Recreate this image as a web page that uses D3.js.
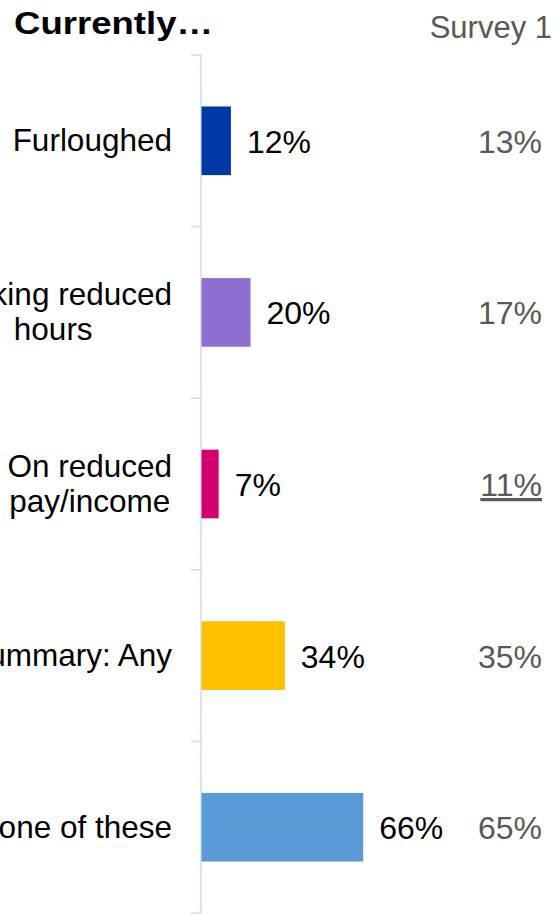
<!DOCTYPE html>
<html>
<head>
<meta charset="utf-8">
<script src="https://cdn.jsdelivr.net/npm/d3@7"></script>
<style>
  body { margin: 0; background: #fff; }
  text { font-family: "Liberation Sans", Arial, sans-serif; }
</style>
</head>
<body>
<div id="viz"></div>
<script>
// chart data
let categories = ["Furloughed", "Working reduced|hours", "On reduced|pay/income", "Summary: Any", "None of these"];
let current_values = [12, 20, 7, 34, 66];
let survey1_values = [13, 17, 11, 35, 65];
let survey1_underlined = [false, false, true, false, false];
let bar_colours = ["#0038A8", "#8E6FD1", "#D3006F", "#FFC000", "#5B9BD5"];

let title_text = "Currently\u2026";
let survey_header = "Survey 1";

let width = 559, height = 915;
let axis_x = 201;
let label_right = 172;
let survey_right = 542;

let svg = d3.select("#viz")
    .append("svg")
    .attr("width", width)
    .attr("height", height);

let y_scale = d3.scaleBand()
    .domain(categories)
    .range([55, 913])
    .paddingInner(0.6)
    .paddingOuter(0.3);

let x_scale = d3.scaleLinear()
    .domain([0, 100])
    .range([axis_x + 0.5, axis_x + 0.5 + 245]);

let step = y_scale.step();

// title + header
svg.append("text")
    .attr("x", 14)
    .attr("y", 34)
    .attr("font-size", 32)
    .attr("font-weight", "bold")
    .attr("fill", "#000")
    .attr("textLength", 199)
    .attr("lengthAdjust", "spacingAndGlyphs")
    .text(title_text);

svg.append("text")
    .attr("x", 552)
    .attr("y", 38)
    .attr("text-anchor", "end")
    .attr("font-size", 31)
    .attr("fill", "#595959")
    .text(survey_header);

// axis line with ticks at band boundaries
svg.append("line")
    .attr("x1", axis_x).attr("x2", axis_x)
    .attr("y1", y_scale.range()[0]).attr("y2", y_scale.range()[1])
    .attr("stroke", "#C6DEF6")
    .attr("stroke-width", 1.5);

let boundaries = d3.range(categories.length + 1).map(i => y_scale.range()[0] + i * step);
svg.selectAll(".tick_line")
    .data(boundaries)
    .enter()
    .append("line")
    .attr("class", "tick_line")
    .attr("x1", axis_x - 10).attr("x2", axis_x)
    .attr("y1", d => d).attr("y2", d => d)
    .attr("stroke", "#C6DEF6")
    .attr("stroke-width", 1.5);

// bars
svg.selectAll(".bar")
    .data(categories)
    .enter()
    .append("rect")
    .attr("class", "bar")
    .attr("x", x_scale(0))
    .attr("y", d => y_scale(d))
    .attr("width", (d, i) => x_scale(current_values[i]) - x_scale(0))
    .attr("height", y_scale.bandwidth())
    .attr("fill", (d, i) => bar_colours[i]);

let cat_size = 31.5, val_size = 32;
let line_h = 35;

// category labels, lines centred inside a right-aligned block
categories.forEach(function(c, i){
    let lines = c.split("|");
    let center = y_scale(c) + y_scale.bandwidth() / 2;
    let first = center + 21 / 2 - (lines.length - 1) * line_h / 2;
    let g = svg.append("g");
    let texts = lines.map(function(l, k){
        return g.append("text")
            .attr("y", first + k * line_h)
            .attr("font-size", cat_size)
            .attr("text-anchor", "middle")
            .attr("fill", "#000")
            .text(l);
    });
    let max_w = d3.max(texts, t => t.node().getComputedTextLength());
    texts.forEach(t => t.attr("x", label_right - max_w / 2));
});

// value labels
svg.selectAll(".val_label")
    .data(categories)
    .enter()
    .append("text")
    .attr("class", "val_label")
    .attr("x", (d, i) => x_scale(current_values[i]) + 16)
    .attr("y", d => y_scale(d) + y_scale.bandwidth() / 2 + 12)
    .attr("font-size", val_size)
    .attr("fill", "#000")
    .text((d, i) => current_values[i] + "%");

// survey 1 column
svg.selectAll(".survey_label")
    .data(categories)
    .enter()
    .append("text")
    .attr("class", "survey_label")
    .attr("x", survey_right)
    .attr("y", d => y_scale(d) + y_scale.bandwidth() / 2 + 12)
    .attr("text-anchor", "end")
    .attr("font-size", val_size)
    .attr("fill", "#595959")
    .attr("text-decoration", (d, i) => survey1_underlined[i] ? "underline" : null)
    .text((d, i) => survey1_values[i] + "%");
</script>
</body>
</html>
